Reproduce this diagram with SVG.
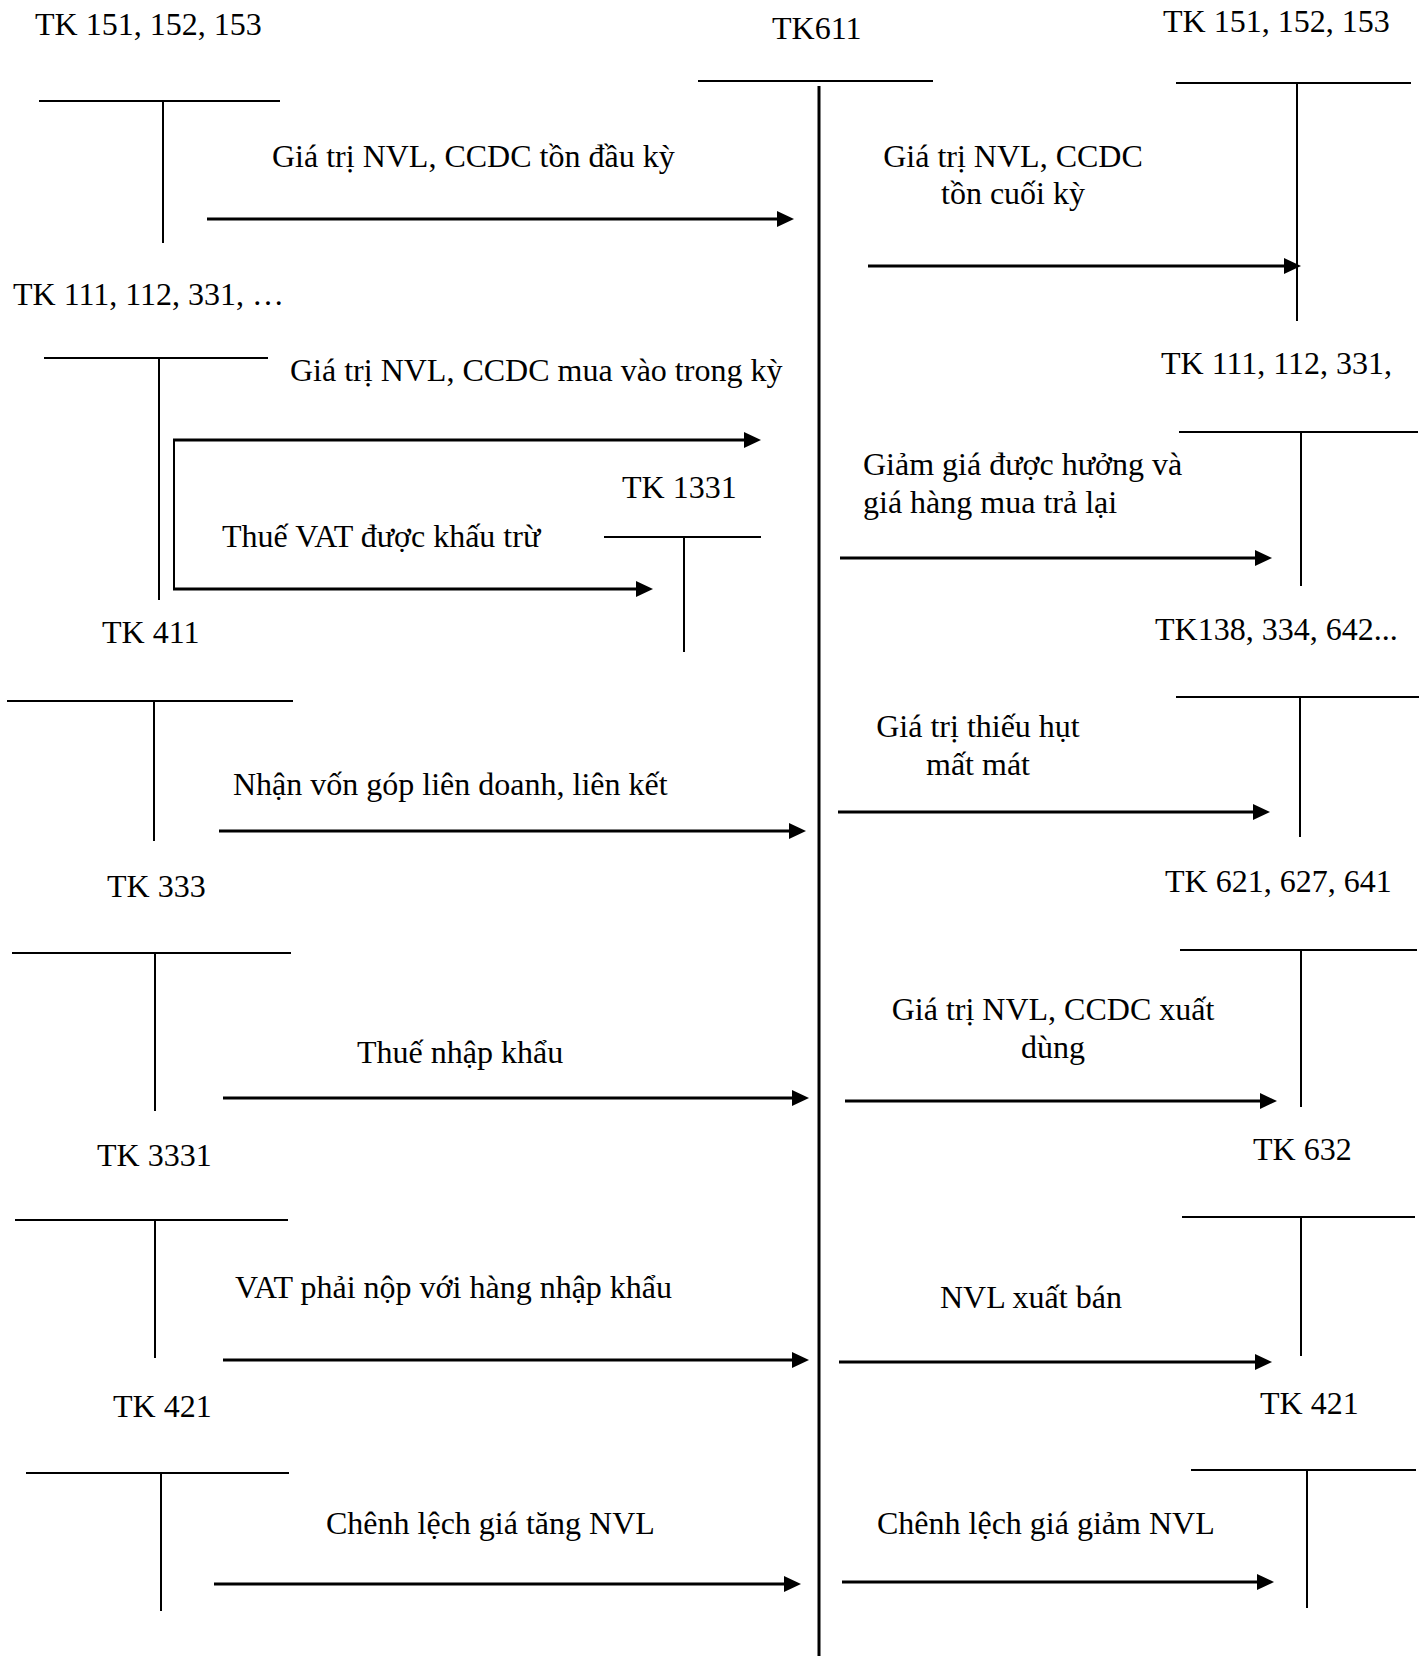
<svg xmlns="http://www.w3.org/2000/svg" width="1423" height="1656" viewBox="0 0 1423 1656">
  <style>
    text { font-family: "Liberation Serif", "Times New Roman", serif; font-size: 32px; fill: #000; }
    .t { stroke: #000; stroke-width: 2; fill: none; }
    .main { stroke: #000; stroke-width: 3; fill: none; }
    .arr { stroke: #000; stroke-width: 3; fill: none; marker-end: url(#head); }
    .mid { text-anchor: middle; }
  </style>
  <defs>
    <marker id="head" markerUnits="userSpaceOnUse" markerWidth="18" markerHeight="16" refX="6" refY="8" orient="auto">
      <path d="M0,0 L17,8 L0,16 z" fill="#000"/>
    </marker>
  </defs>
  <rect width="1423" height="1656" fill="#fff"/>

  <!-- central account -->
  <g id="tk611">
    <text x="772" y="39">TK611</text>
    <line class="t" x1="698" y1="81" x2="933" y2="81"/>
    <line class="main" x1="819" y1="86" x2="819" y2="1656"/>
  </g>

  <!-- left-hand T accounts -->
  <g id="tk151-left">
    <text x="35" y="35">TK 151, 152, 153</text>
    <line class="t" x1="39" y1="101" x2="280" y2="101"/>
    <line class="t" x1="163" y1="101" x2="163" y2="243"/>
  </g>
  <g id="tk111-left">
    <text x="13" y="305">TK 111, 112, 331, …</text>
    <line class="t" x1="44" y1="358" x2="268" y2="358"/>
    <line class="t" x1="159" y1="358" x2="159" y2="600"/>
  </g>
  <g id="tk1331">
    <text x="622" y="498">TK 1331</text>
    <line class="t" x1="604" y1="537" x2="761" y2="537"/>
    <line class="t" x1="684" y1="537" x2="684" y2="652"/>
  </g>
  <g id="tk411">
    <text x="102" y="643">TK 411</text>
    <line class="t" x1="7" y1="701" x2="293" y2="701"/>
    <line class="t" x1="154" y1="701" x2="154" y2="841"/>
  </g>
  <g id="tk333">
    <text x="107" y="897">TK 333</text>
    <line class="t" x1="12" y1="953" x2="291" y2="953"/>
    <line class="t" x1="155" y1="953" x2="155" y2="1111"/>
  </g>
  <g id="tk3331">
    <text x="97" y="1166">TK 3331</text>
    <line class="t" x1="15" y1="1220" x2="288" y2="1220"/>
    <line class="t" x1="155" y1="1220" x2="155" y2="1358"/>
  </g>
  <g id="tk421-left">
    <text x="113" y="1417">TK 421</text>
    <line class="t" x1="26" y1="1473" x2="289" y2="1473"/>
    <line class="t" x1="161" y1="1473" x2="161" y2="1611"/>
  </g>

  <!-- right-hand T accounts -->
  <g id="tk151-right">
    <text x="1163" y="32">TK 151, 152, 153</text>
    <line class="t" x1="1176" y1="83" x2="1411" y2="83"/>
    <line class="t" x1="1297" y1="83" x2="1297" y2="321"/>
  </g>
  <g id="tk111-right">
    <text x="1161" y="374">TK 111, 112, 331,</text>
    <line class="t" x1="1179" y1="432" x2="1418" y2="432"/>
    <line class="t" x1="1301" y1="432" x2="1301" y2="586"/>
  </g>
  <g id="tk138">
    <text x="1155" y="640">TK138, 334, 642...</text>
    <line class="t" x1="1176" y1="697" x2="1419" y2="697"/>
    <line class="t" x1="1300" y1="697" x2="1300" y2="837"/>
  </g>
  <g id="tk621">
    <text x="1165" y="892">TK 621, 627, 641</text>
    <line class="t" x1="1180" y1="950" x2="1417" y2="950"/>
    <line class="t" x1="1301" y1="950" x2="1301" y2="1107"/>
  </g>
  <g id="tk632">
    <text x="1253" y="1160">TK 632</text>
    <line class="t" x1="1182" y1="1217" x2="1415" y2="1217"/>
    <line class="t" x1="1301" y1="1217" x2="1301" y2="1356"/>
  </g>
  <g id="tk421-right">
    <text x="1260" y="1414">TK 421</text>
    <line class="t" x1="1191" y1="1470" x2="1416" y2="1470"/>
    <line class="t" x1="1307" y1="1470" x2="1307" y2="1608"/>
  </g>

  <!-- postings -->
  <g id="connectors">
    <!-- into TK611 -->
    <line class="arr" x1="207" y1="219" x2="783" y2="219"/>
    <text x="272" y="167">Giá trị NVL, CCDC tồn đầu kỳ</text>

    <path class="t" d="M174,590 V439" stroke-width="3"/>
    <line class="arr" x1="173" y1="440" x2="750" y2="440"/>
    <line class="arr" x1="173" y1="589" x2="642" y2="589"/>
    <text x="290" y="381">Giá trị NVL, CCDC mua vào trong kỳ</text>
    <text x="222" y="547">Thuế VAT được khấu trừ</text>

    <line class="arr" x1="219" y1="831" x2="795" y2="831"/>
    <text x="233" y="795">Nhận vốn góp liên doanh, liên kết</text>

    <line class="arr" x1="223" y1="1098" x2="798" y2="1098"/>
    <text x="357" y="1063">Thuế nhập khẩu</text>

    <line class="arr" x1="223" y1="1360" x2="798" y2="1360"/>
    <text x="235" y="1298">VAT phải nộp với hàng nhập khẩu</text>

    <line class="arr" x1="214" y1="1584" x2="790" y2="1584"/>
    <text x="326" y="1534">Chênh lệch giá tăng NVL</text>

    <!-- out of TK611 -->
    <line class="arr" x1="868" y1="266" x2="1290" y2="266"/>
    <text class="mid" x="1013" y="167">Giá trị NVL, CCDC</text>
    <text class="mid" x="1013" y="204">tồn cuối kỳ</text>

    <line class="arr" x1="840" y1="558" x2="1261" y2="558"/>
    <text x="863" y="475">Giảm giá được hưởng và</text>
    <text x="863" y="513">giá hàng mua trả lại</text>

    <line class="arr" x1="838" y1="812" x2="1259" y2="812"/>
    <text class="mid" x="978" y="737">Giá trị thiếu hụt</text>
    <text class="mid" x="978" y="775">mất mát</text>

    <line class="arr" x1="845" y1="1101" x2="1266" y2="1101"/>
    <text class="mid" x="1053" y="1020">Giá trị NVL, CCDC xuất</text>
    <text class="mid" x="1053" y="1058">dùng</text>

    <line class="arr" x1="839" y1="1362" x2="1261" y2="1362"/>
    <text x="940" y="1308">NVL xuất bán</text>

    <line class="arr" x1="842" y1="1582" x2="1263" y2="1582"/>
    <text x="877" y="1534">Chênh lệch giá giảm NVL</text>
  </g>
</svg>
